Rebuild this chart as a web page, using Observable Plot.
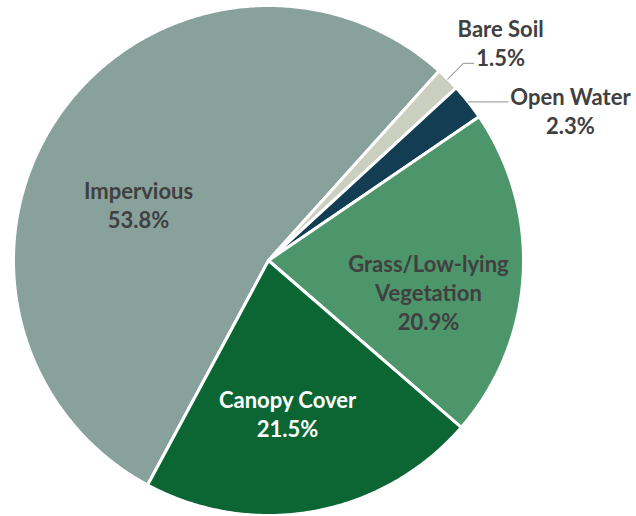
<!DOCTYPE html>
<html>
<head>
<meta charset="utf-8">
<script src="https://cdn.jsdelivr.net/npm/d3@7"></script>
<script src="https://cdn.jsdelivr.net/npm/@observablehq/plot@0.6"></script>
<style>
  html, body { margin: 0; padding: 0; background: #ffffff; }
  #chart svg { display: block; }
</style>
</head>
<body>
<div id="chart"></div>
<script>
// ---- data ----
const categories = ["Impervious", "Bare Soil", "Open Water", "Grass/Low-lying Vegetation", "Canopy Cover"];
const shares = [53.8, 1.5, 2.3, 20.9, 21.5];
const labelNames = ["Impervious", "Bare Soil", "Open Water", "Grass/Low-lying\nVegetation", "Canopy Cover"];
const sliceColors = ["#88a29b", "#cbcfbf", "#133d52", "#4d956b", "#0b6634"];

// ---- layout (not data) ----
const W = 636, H = 516, CX = 268, CY = 260, R = 255;
const START_DEG = 208.3;
// label placement: angle (deg, clockwise from top) and radius (fraction of R)
const labelAngle = [293.3, 46.8, 63.6, 101.0, 172.9];
const labelRadius = [0.555, 1.249, 1.322, 0.639, 0.605];
const labelInk = ["#404040", "#404040", "#404040", "#404040", "#ffffff"];
// leader lines for small slices: elbow radius and horizontal run (fraction of R)
const leaderElbow = [null, 1.087, 1.0, null, null];
const leaderRun = [null, 0.04, 0.157, null, null];

const rad = d => d * Math.PI / 180;
const table = categories.map((c, i) => ({cat: c, share: shares[i], i}));
const arcs = d3.pie().sort(null).value(d => d.share)
  .startAngle(rad(START_DEG)).endAngle(rad(START_DEG) + 2 * Math.PI)(table);

// slice outlines built from pie angles
const slicePts = arcs.flatMap(a => {
  const n = Math.max(4, Math.ceil((a.endAngle - a.startAngle) / (Math.PI / 360)));
  const out = [{cat: a.data.cat, x: 0, y: 0}];
  for (let k = 0; k <= n; k++) {
    const t = a.startAngle + (a.endAngle - a.startAngle) * k / n;
    out.push({cat: a.data.cat, x: Math.sin(t), y: Math.cos(t)});
  }
  return out;
});

const labels = table.map(d => {
  const t = rad(labelAngle[d.i]), r = labelRadius[d.i];
  return {text: labelNames[d.i] + "\n" + d.share.toFixed(1) + "%", x: r * Math.sin(t), y: r * Math.cos(t), ink: labelInk[d.i]};
});

const leaders = arcs.filter(a => leaderElbow[a.data.i] != null).flatMap(a => {
  const i = a.data.i, m = (a.startAngle + a.endAngle) / 2;
  const p0 = {x: Math.sin(m), y: Math.cos(m)};
  const e = leaderElbow[i];
  const p1 = {x: e * Math.sin(m), y: e * Math.cos(m)};
  const p2 = {x: p1.x + leaderRun[i], y: p1.y};
  return [p0, p1, p2].map(p => ({...p, cat: a.data.cat}));
});

const font = {fontSize: 22, fontWeight: "bold", fontFamily: "Lato, 'Open Sans', sans-serif", lineHeight: 1.32};

const chart = Plot.plot({
  width: W, height: H,
  margin: 0,
  x: {domain: [-CX / R, (W - CX) / R], range: [0, W], axis: null},
  y: {domain: [-(H - CY) / R, CY / R], range: [H, 0], axis: null},
  color: {domain: categories, range: sliceColors},
  style: {background: "#ffffff"},
  marks: [
    Plot.line(slicePts, {x: "x", y: "y", z: "cat", fill: "cat", stroke: "#ffffff", strokeWidth: 3, strokeLinejoin: "round", curve: "linear-closed"}),
    Plot.line(leaders, {x: "x", y: "y", z: "cat", stroke: "#a6a6a6", strokeWidth: 1.2}),
    Plot.text(labels.filter(d => d.ink !== "#ffffff"), {x: "x", y: "y", text: "text", fill: "#404040", ...font}),
    Plot.text(labels.filter(d => d.ink === "#ffffff"), {x: "x", y: "y", text: "text", fill: "#ffffff", ...font})
  ]
});
document.getElementById("chart").appendChild(chart);
</script>
</body>
</html>
